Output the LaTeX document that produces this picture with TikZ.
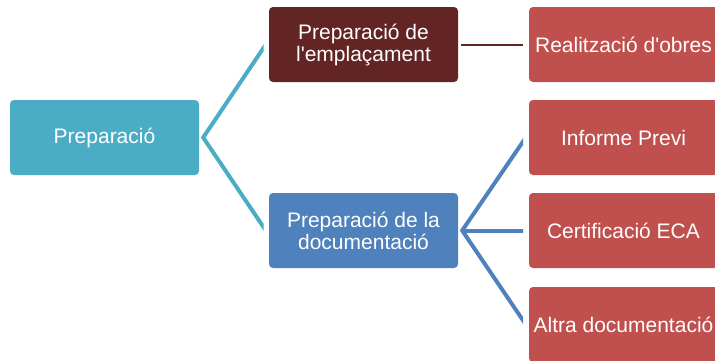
\documentclass[tikz,border=0pt]{standalone}
\usepackage{fontspec}
\setmainfont{Liberation Sans}
\definecolor{cteal}{HTML}{4BACC6}
\definecolor{cdark}{HTML}{632523}
\definecolor{cblue}{HTML}{4F81BD}
\definecolor{cred}{HTML}{C0504D}
\begin{document}
\begin{tikzpicture}[x=1pt,y=-1pt,
  box/.style={rounded corners=4pt, minimum width=189pt, minimum height=75pt,
    inner sep=0pt, align=center, text=white,
    font=\fontsize{21}{22}\selectfont},
  thickconn/.style={line width=4pt, line join=miter},
  thinconn/.style={line width=2pt, draw=cdark}]
\useasboundingbox (0,0) rectangle (715,360);
\clip (0,0) rectangle (715,360);
\node[box, fill=cteal] (prep) at (104.5,137.5) {Preparació};
\node[box, fill=cdark] (emp) at (363.5,44.5) {Preparació de\\l\textquotesingle emplaçament};
\node[box, fill=cblue] (doc) at (363.5,230.5) {Preparació de la\\documentació};
\node[box, fill=cred] (real) at (623.5,44.5) {Realització d\textquotesingle obres};
\node[box, fill=cred] (inf) at (623.5,137.5) {Informe Previ};
\node[box, fill=cred] (cert) at (623.5,230.5) {Certificació ECA};
\node[box, fill=cred] (alt) at (623.5,324.5) {Altra documentació};
\coordinate (v1) at ([xshift=4pt]prep.east);
\coordinate (v2) at ([xshift=4pt]doc.east);
\begin{scope}
  \clip (0,0) rectangle (263.5,360);
  \draw[thickconn, draw=cteal] ([xshift=-3pt]emp.west) -- (v1) -- ([xshift=-3pt]doc.west);
\end{scope}
\begin{scope}
  \clip (0,0) rectangle (523,360);
  \draw[thickconn, draw=cblue] ([xshift=-3pt]inf.west) -- (v2) -- ([xshift=-3pt]alt.west);
  \draw[thickconn, draw=cblue] (v2) -- ([xshift=-3pt]cert.west);
\end{scope}
\draw[thinconn] ([xshift=3pt]emp.east) -- ([xshift=-6pt]real.west);
\end{tikzpicture}
\end{document}
